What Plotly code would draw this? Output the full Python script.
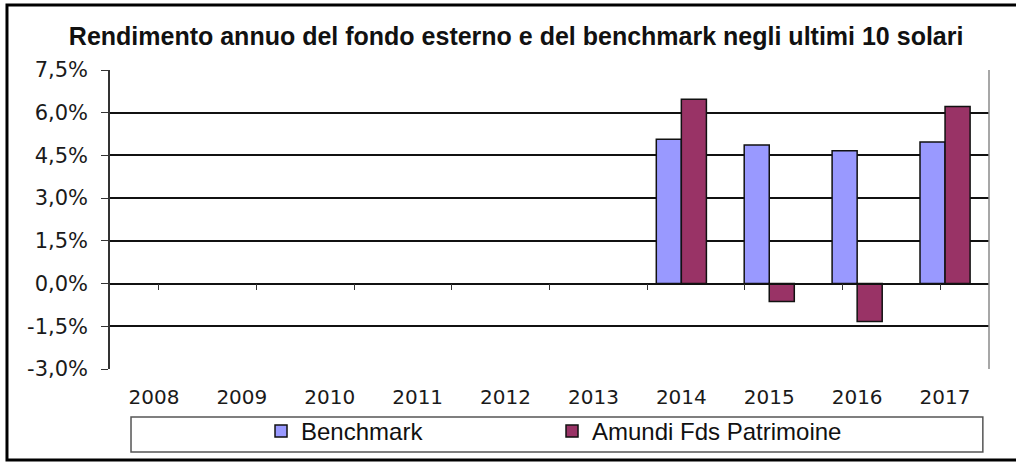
import plotly.graph_objects as go

# dati
years = ["2008", "2009", "2010", "2011", "2012", "2013", "2014", "2015", "2016", "2017"]
benchmark = [None, None, None, None, None, None, 5.07, 4.87, 4.66, 4.97]
fondo = [None, None, None, None, None, None, 6.47, -0.63, -1.33, 6.22]
y_ticks = [-3.0, -1.5, 0.0, 1.5, 3.0, 4.5, 6.0, 7.5]
y_labels = [f"{v:.1f}%".replace(".", ",") for v in y_ticks]

title_text = "Rendimento annuo del fondo esterno e del benchmark negli ultimi 10 solari"
arial = "Liberation Sans, Arial, sans-serif"
dejavu = "DejaVu Sans, sans-serif"

fig = go.Figure()
fig.add_trace(go.Bar(
    x=years, y=benchmark, name="Benchmark",
    marker=dict(color="#9999FF", line=dict(color="#111111", width=1.5)),
))
fig.add_trace(go.Bar(
    x=years, y=fondo, name="Amundi Fds Patrimoine",
    marker=dict(color="#993366", line=dict(color="#111111", width=1.5)),
))
# asse secondario solo per i tick sulla linea dello zero
fig.add_trace(go.Scatter(
    x=years, y=[None] * len(years), xaxis="x2", mode="lines",
    showlegend=False, hoverinfo="skip",
))

zero_pos = (0 - y_ticks[0]) / (y_ticks[-1] - y_ticks[0])

fig.update_layout(
    width=1016, height=464,
    margin=dict(l=110, r=27, t=70, b=95, autoexpand=False),
    paper_bgcolor="white", plot_bgcolor="white",
    font=dict(family=arial, size=18, color="#1a1a1a"),
    title=dict(text="<b>" + title_text + "</b>", x=0.508, xanchor="center",
               xref="container", y=1 - 36 / 464, yref="container", yanchor="middle",
               font=dict(family=arial, size=25, color="#111111")),
    barmode="group", bargap=0.43, bargroupgap=0,
    xaxis=dict(type="category", showgrid=False, showline=False, ticks="",
               automargin=False,
               ticklabelstandoff=14, tickfont=dict(family=dejavu, size=20, color="#1a1a1a")),
    xaxis2=dict(type="category", overlaying="x", anchor="free", position=zero_pos,
                automargin=False,
                showticklabels=False, showgrid=False, showline=True,
                linecolor="#111111", linewidth=1.5, ticks="outside",
                tickson="boundaries", ticklen=6, tickcolor="#333333", tickwidth=1),
    yaxis=dict(range=[y_ticks[0], y_ticks[-1]], tickvals=y_ticks, ticktext=y_labels,
               automargin=False,
               showgrid=True, gridcolor="#111111", gridwidth=1.6, zeroline=False,
               showline=True, linecolor="#333333", linewidth=1.5,
               ticks="outside", ticklen=7, tickcolor="#333333",
               ticklabelstandoff=9, tickfont=dict(family=dejavu, size=21, color="#1a1a1a")),
    legend=dict(orientation="h", x=0.1718, xanchor="left", y=-0.209, yanchor="middle",
                entrywidth=246, entrywidthmode="pixels", itemwidth=30,
                font=dict(family=arial, size=24, color="#111111"), bgcolor="rgba(0,0,0,0)"),
    shapes=[
        # bordo destro dell'area del grafico
        dict(type="line", xref="paper", yref="paper", x0=1, x1=1, y0=0, y1=1,
             line=dict(color="#8a8a8a", width=1.5)),
        # riquadro della legenda
        dict(type="rect", xref="paper", yref="paper", x0=0.0239, x1=0.993,
             y0=-0.2776, y1=-0.1605, line=dict(color="#555555", width=1.5)),
        # cornice esterna
        dict(type="rect", xref="paper", yref="paper", x0=-0.1172, x1=1.3,
             y0=-0.3043, y1=1.2174, line=dict(color="#000000", width=3)),
    ],
)

# niente margine del body, cosi' la figura parte dall'angolo della pagina
fig.write_html("out.html", config={"displayModeBar": False},
               post_script="document.body.style.margin='0';")
